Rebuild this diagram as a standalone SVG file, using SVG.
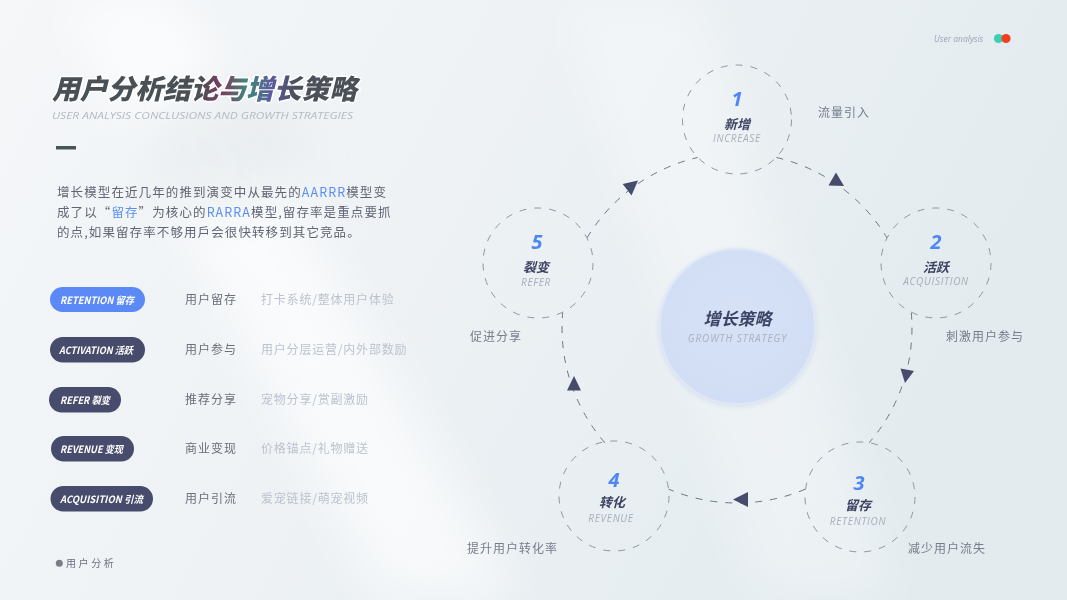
<svg xmlns="http://www.w3.org/2000/svg" width="1067" height="600" viewBox="0 0 1067 600">
<defs>
  <linearGradient id="bg" x1="0" y1="0" x2="1" y2="0.3">
    <stop offset="0" stop-color="#f5f7f9"/>
    <stop offset="0.45" stop-color="#eef2f5"/>
    <stop offset="1" stop-color="#e3ebef"/>
  </linearGradient>
  <linearGradient id="titleGrad" x1="52" y1="0" x2="357" y2="0" gradientUnits="userSpaceOnUse">
    <stop offset="0" stop-color="#4a5156"/>
    <stop offset="0.48" stop-color="#4a5156"/>
    <stop offset="0.56" stop-color="#7a3d62"/>
    <stop offset="0.64" stop-color="#3f8a7c"/>
    <stop offset="0.72" stop-color="#5b5a9c"/>
    <stop offset="0.8" stop-color="#4c4f5c"/>
    <stop offset="1" stop-color="#4a5156"/>
  </linearGradient>
  <radialGradient id="coreGrad" cx="0.5" cy="0.45" r="0.6">
    <stop offset="0" stop-color="#d7e2f6"/>
    <stop offset="1" stop-color="#d0ddf4"/>
  </radialGradient>
  <filter id="blur" x="-20%" y="-20%" width="140%" height="140%">
    <feGaussianBlur stdDeviation="25"/>
  </filter>
  <filter id="soft" x="-20%" y="-20%" width="140%" height="140%">
    <feGaussianBlur stdDeviation="2"/>
  </filter>
  <style>
    .cn{font-family:"Noto Sans CJK SC","Noto Sans",sans-serif;}
    .para{font-family:"Noto Sans CJK SC",sans-serif;font-size:12.5px;fill:#5f6573;letter-spacing:1.1px;}
    .hl{fill:#5b8ef5;}
    .pill{fill:#474b6c;}
    .pilltxt{font-family:"Noto Sans CJK SC","Open Sans",sans-serif;font-size:10px;font-weight:700;font-style:italic;fill:#ffffff;}
    .col2{font-family:"Noto Sans CJK SC",sans-serif;font-size:12px;fill:#6a6f7a;letter-spacing:1px;}
    .col3{font-family:"Noto Sans CJK SC",sans-serif;font-size:12px;fill:#bcc3cf;letter-spacing:0.8px;}
    .ncirc{fill:none;stroke:#8f95a2;stroke-width:1;stroke-dasharray:7 8;}
    .arc{fill:none;stroke:#6e7585;stroke-width:1;stroke-dasharray:7 8;}
    .num{font-family:"Open Sans","Liberation Sans",sans-serif;font-size:20px;font-weight:700;font-style:italic;fill:#4d86f5;text-anchor:middle;}
    .ncn{font-family:"Noto Sans CJK SC",sans-serif;font-size:13px;font-weight:700;font-style:italic;fill:#3d4262;text-anchor:middle;}
    .nen{font-family:"Open Sans","Liberation Sans",sans-serif;font-size:10px;font-style:italic;fill:#a8aebb;text-anchor:middle;letter-spacing:0.7px;}
    .side{font-family:"Noto Sans CJK SC",sans-serif;font-size:12px;fill:#767c8a;letter-spacing:1px;}
    .arrow{fill:#474b6c;}
  </style>
</defs>

<!-- background -->
<rect width="1067" height="600" fill="url(#bg)"/>
<g filter="url(#blur)" opacity="0.9">
  <polygon points="60,0 180,0 520,600 380,600" fill="#ffffff" opacity="0.7"/>
  <polygon points="560,0 700,0 900,600 760,600" fill="#ffffff" opacity="0.35"/>
  <ellipse cx="220" cy="150" rx="80" ry="60" fill="#dfe6ea" opacity="0.6"/>
</g>

<!-- header right -->
<g id="tag">
  <text x="934" y="42" font-family="Open Sans, Liberation Sans, sans-serif" font-size="8.5" font-style="italic" fill="#9aa3b8">User analysis</text>
  <circle cx="998.5" cy="38.5" r="4.6" fill="#3ecfb2"/>
  <circle cx="1006" cy="38.5" r="4.6" fill="#f0401e"/>
</g>

<!-- title -->
<g id="title">
  <text x="52" y="99" class="cn" font-size="27.5" font-weight="900" font-style="italic" fill="url(#titleGrad)" stroke="#ffffff" stroke-width="3" paint-order="stroke" stroke-linejoin="round" textLength="305" lengthAdjust="spacingAndGlyphs">用户分析结论与增长策略</text>
  <text x="52" y="119" font-family="Open Sans, Liberation Sans, sans-serif" font-size="9.5" font-style="italic" fill="#b4bac4" textLength="301" lengthAdjust="spacingAndGlyphs">USER ANALYSIS CONCLUSIONS AND GROWTH STRATEGIES</text>
  <rect x="56" y="146" width="20" height="3.5" fill="#4a5558"/>
</g>

<!-- paragraph -->
<g id="paragraph">
  <text x="57" y="197" class="para">增长模型在近几年的推到演变中从最先的<tspan class="hl">AARRR</tspan>模型变</text>
  <text x="57" y="217" class="para">成了以“<tspan class="hl">留存</tspan>”为核心的<tspan class="hl">RARRA</tspan>模型,留存率是重点要抓</text>
  <text x="57" y="237" class="para">的点,如果留存率不够用戶会很快转移到其它竞品。</text>
</g>

<!-- list -->
<g id="row-retention">
  <rect x="50" y="287" width="95" height="25" rx="12.5" fill="#5b8af7"/>
  <text x="60" y="303.5" class="pilltxt" textLength="74" lengthAdjust="spacingAndGlyphs">RETENTION 留存</text>
  <text x="185" y="304" class="col2">用户留存</text>
  <text x="261" y="304" class="col3">打卡系统/整体用户体验</text>
</g>
<g id="row-activation">
  <rect x="50" y="337" width="95" height="25.5" rx="12.75" class="pill"/>
  <text x="59" y="353.5" class="pilltxt" textLength="74" lengthAdjust="spacingAndGlyphs">ACTIVATION 活跃</text>
  <text x="185" y="354" class="col2">用户参与</text>
  <text x="261" y="354" class="col3">用户分层运营/内外部数励</text>
</g>
<g id="row-refer">
  <rect x="49" y="387" width="72" height="25.5" rx="12.75" class="pill"/>
  <text x="60" y="403.5" class="pilltxt" textLength="50" lengthAdjust="spacingAndGlyphs">REFER 裂变</text>
  <text x="185" y="404" class="col2">推荐分享</text>
  <text x="261" y="404" class="col3">宠物分享/赏副激励</text>
</g>
<g id="row-revenue">
  <rect x="51" y="436" width="83" height="25.5" rx="12.75" class="pill"/>
  <text x="60" y="452.5" class="pilltxt" textLength="63" lengthAdjust="spacingAndGlyphs">REVENUE 变现</text>
  <text x="185" y="453" class="col2">商业变现</text>
  <text x="261" y="453" class="col3">价格锚点/礼物赠送</text>
</g>
<g id="row-acquisition">
  <rect x="50.5" y="486" width="102.5" height="25.5" rx="12.75" class="pill"/>
  <text x="60" y="502.5" class="pilltxt" textLength="83" lengthAdjust="spacingAndGlyphs">ACQUISITION 引流</text>
  <text x="185" y="503" class="col2">用户引流</text>
  <text x="261" y="503" class="col3">爱宠链接/萌宠视频</text>
</g>

<!-- footer -->
<g id="footer">
  <circle cx="59.3" cy="563.3" r="3.5" fill="#7a7d85"/>
  <text x="66" y="567" class="cn" font-size="10" fill="#6b7080" letter-spacing="2.6">用户分析</text>
</g>

<!-- connectors -->
<g id="connectors">
  <path class="arc" d="M776.4,157.5 A175,175 0 0 1 887.0,237.9"/>
  <path class="arc" d="M911.3,312.7 A175,175 0 0 1 869.1,442.8"/>
  <path class="arc" d="M805.4,489.1 A175,175 0 0 1 668.6,489.1"/>
  <path class="arc" d="M604.9,442.8 A175,175 0 0 1 562.7,312.7"/>
  <path class="arc" d="M587.0,237.9 A175,175 0 0 1 697.6,157.5"/>
  <polygon class="arrow" points="622.7,184 638,180.5 631.5,195.5"/>
  <polygon class="arrow" points="836,172.5 828.5,185.5 844,186"/>
  <polygon class="arrow" points="900.5,368.5 914,371 905,383"/>
  <polygon class="arrow" points="733,499.5 748,492 748,507"/>
  <polygon class="arrow" points="574,376 567,390.5 581,390.5"/>
</g>

<!-- center -->
<g id="core">
  <circle cx="737.5" cy="328" r="79" fill="#c9d6ee" opacity="0.6" filter="url(#soft)"/>
  <circle cx="737.5" cy="326.5" r="77.5" fill="url(#coreGrad)" stroke="#dfe7f7" stroke-width="2"/>
  <text x="737.5" y="325" class="cn" font-size="17" font-weight="700" font-style="italic" fill="#3d4466" text-anchor="middle">增长策略</text>
  <text x="737.5" y="341.5" font-family="Open Sans, Liberation Sans, sans-serif" font-size="10" font-style="italic" fill="#a8b0c0" text-anchor="middle" letter-spacing="0.9">GROWTH STRATEGY</text>
</g>

<!-- nodes -->
<g id="node-1">
  <circle class="ncirc" cx="737" cy="119.5" r="54.5"/>
  <text x="737" y="105.5" class="num">1</text>
  <text x="737" y="129" class="ncn">新增</text>
  <text x="737" y="142" class="nen">INCREASE</text>
  <text x="818" y="116.5" class="side">流量引入</text>
</g>
<g id="node-2">
  <circle class="ncirc" cx="936" cy="263" r="55"/>
  <text x="936" y="248.5" class="num">2</text>
  <text x="936" y="271.5" class="ncn">活跃</text>
  <text x="936" y="285" class="nen">ACQUISITION</text>
  <text x="946" y="340.5" class="side">刺激用户参与</text>
</g>
<g id="node-3">
  <circle class="ncirc" cx="860" cy="497" r="55"/>
  <text x="859" y="490" class="num">3</text>
  <text x="858" y="509.5" class="ncn">留存</text>
  <text x="858" y="524.5" class="nen">RETENTION</text>
  <text x="908" y="552.5" class="side">减少用户流失</text>
</g>
<g id="node-4">
  <circle class="ncirc" cx="614" cy="496" r="55"/>
  <text x="614" y="487" class="num">4</text>
  <text x="612" y="507" class="ncn">转化</text>
  <text x="611" y="522" class="nen">REVENUE</text>
  <text x="467" y="552.5" class="side">提升用户转化率</text>
</g>
<g id="node-5">
  <circle class="ncirc" cx="538" cy="263" r="55"/>
  <text x="537" y="249" class="num">5</text>
  <text x="536" y="271.5" class="ncn">裂变</text>
  <text x="536" y="286" class="nen">REFER</text>
  <text x="470" y="340.5" class="side">促进分享</text>
</g>
</svg>
